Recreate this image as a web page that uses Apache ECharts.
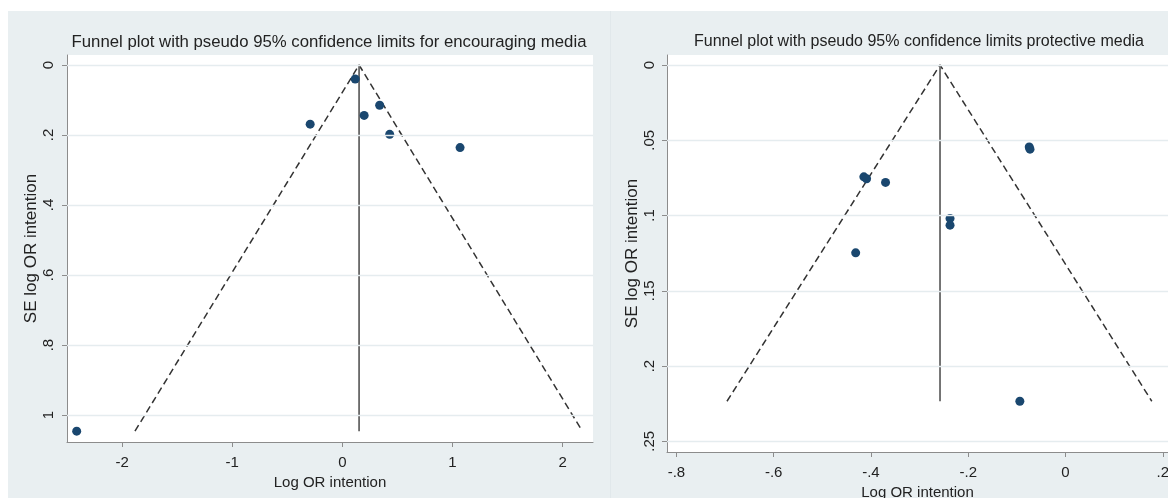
<!DOCTYPE html>
<html>
<head>
<meta charset="utf-8">
<script src="https://cdn.jsdelivr.net/npm/echarts@6/dist/echarts.min.js"></script>
<style>
  html, body { margin: 0; padding: 0; background: #ffffff; }
  #chart { width: 1168px; height: 498px; }
</style>
</head>
<body>
<div id="chart"></div>
<script>
// ---- Encouraging media: study estimates (log OR, SE) ----
const encLogOR = [0.117, 0.339, 0.198, -0.292, 0.430, 1.069, -2.412];
const encSE    = [0.040, 0.115, 0.144, 0.169, 0.198, 0.236, 1.046];
// pooled estimate and pseudo 95% limits at the largest SE
const encCenter = 0.152;
const encSEmax = 1.046;
const encLowerEnd = -1.883;
const encUpperEnd = 2.179;
const encXTicks = [-2, -1, 0, 1, 2];
const encYTicks = [0, 0.2, 0.4, 0.6, 0.8, 1];

// ---- Protective media: study estimates (log OR, SE) ----
const proLogOR = [-0.0746, -0.073, -0.4146, -0.409, -0.370, -0.2374, -0.2374, -0.4314, -0.0939];
const proSE    = [0.0545, 0.0559, 0.0743, 0.0756, 0.0780, 0.1019, 0.1064, 0.1248, 0.2234];
const proCenter = -0.258;
const proSEmax = 0.2234;
const proLowerEnd = -0.696;
const proUpperEnd = 0.1774;
const proXTicks = [-0.8, -0.6, -0.4, -0.2, 0, 0.2];
const proYTicks = [0, 0.05, 0.1, 0.15, 0.2, 0.25];

const titles = [
  'Funnel plot with pseudo 95% confidence limits for encouraging media',
  'Funnel plot with pseudo 95% confidence limits protective media'
];
const xName = 'Log OR intention';
const yName = 'SE log OR intention';

const FONT = '"Liberation Sans", Arial, Helvetica, sans-serif';
const AXIS_GRAY = '#8c8c8c';
const GRID_COLOR = '#e5ecef';
const PANEL_BG = '#e9eff1';
const NAVY = '#1a476f';
const TEXT = '#222222';

// Stata-style labels: drop the leading zero
function stataFmt(v) {
  const s = String(Math.round(v * 1000) / 1000);
  return s.replace(/^(-?)0\./, '$1.');
}

function pairs(xs, ys) { return xs.map((x, i) => [x, ys[i]]); }

function xAxisCfg(gridIndex, min, max, ticks, margin, nameGap) {
  return {
    type: 'value', gridIndex, min, max, position: 'bottom',
    name: xName, nameLocation: 'middle', nameGap,
    nameTextStyle: { fontFamily: FONT, fontSize: 15, color: TEXT },
    axisLine: { show: true, onZero: false, lineStyle: { color: AXIS_GRAY, width: 1 } },
    axisTick: { show: true, length: 5, customValues: ticks, lineStyle: { color: AXIS_GRAY } },
    axisLabel: { customValues: ticks, formatter: stataFmt, margin,
      fontFamily: FONT, fontSize: 15, color: TEXT },
    splitLine: { show: false }
  };
}

function yAxisCfg(gridIndex, min, max, ticks, margin, nameGap, nameSize) {
  return {
    type: 'value', gridIndex, min, max, inverse: true, position: 'left',
    name: yName, nameLocation: 'middle', nameGap, nameRotate: 90,
    nameTextStyle: { fontFamily: FONT, fontSize: nameSize, color: TEXT },
    axisLine: { show: true, onZero: false, lineStyle: { color: AXIS_GRAY, width: 1 } },
    axisTick: { show: true, length: 5, customValues: ticks, lineStyle: { color: AXIS_GRAY } },
    axisLabel: { customValues: ticks, formatter: stataFmt, rotate: 90, margin,
      fontFamily: FONT, fontSize: 15, color: TEXT },
    splitLine: { show: false }
  };
}

function gridLines(idx, ticks) {
  return {
    type: 'line', xAxisIndex: idx, yAxisIndex: idx, data: [], z: 1, silent: true,
    markLine: {
      silent: true, symbol: 'none', animation: false,
      label: { show: false },
      lineStyle: { color: GRID_COLOR, type: 'solid', width: 1.3 },
      data: ticks.map(v => ({ yAxis: v }))
    }
  };
}

function funnel(idx, center, seMax, lo, hi) {
  return [
    { // pseudo 95% confidence limits
      type: 'line', xAxisIndex: idx, yAxisIndex: idx, z: 2, silent: true,
      symbol: 'none', animation: false,
      lineStyle: { color: '#333333', width: 1.5, type: [7, 4] },
      data: [[lo, seMax], [center, 0], [hi, seMax]]
    },
    { // pooled estimate
      type: 'line', xAxisIndex: idx, yAxisIndex: idx, z: 2, silent: true,
      symbol: 'none', animation: false,
      lineStyle: { color: '#5e5e5e', width: 1.7 },
      data: [[center, 0], [center, seMax]]
    }
  ];
}

function points(idx, xs, ys) {
  return {
    type: 'scatter', xAxisIndex: idx, yAxisIndex: idx, z: 3, animation: false,
    symbol: 'circle', symbolSize: 9,
    itemStyle: { color: NAVY, opacity: 1 },
    data: pairs(xs, ys)
  };
}

const chart = echarts.init(document.getElementById('chart'), null, { renderer: 'canvas' });

chart.setOption({
  backgroundColor: '#ffffff',
  animation: false,
  graphic: [
    { type: 'rect', z: -10, silent: true,
      shape: { x: 8, y: 11, width: 1160, height: 487 },
      style: { fill: PANEL_BG } },
    { type: 'line', z: -9, silent: true,
      shape: { x1: 610.5, y1: 11, x2: 610.5, y2: 498 },
      style: { stroke: '#e1e8eb', lineWidth: 1 } },
    { type: 'text', x: 329, y: 42, silent: true,
      style: { text: titles[0], fill: TEXT, font: '16.75px ' + FONT,
        textAlign: 'center', textVerticalAlign: 'middle' } },
    { type: 'text', x: 919, y: 42, silent: true,
      style: { text: titles[1], fill: TEXT, font: '16px ' + FONT,
        textAlign: 'center', textVerticalAlign: 'middle' } }
  ],
  grid: [
    { left: 67, top: 55, width: 526, height: 387, show: true,
      backgroundColor: '#ffffff', borderWidth: 0, outerBoundsMode: 'none', containLabel: false },
    { left: 667, top: 55, width: 501, height: 397, show: true,
      backgroundColor: '#ffffff', borderWidth: 0, outerBoundsMode: 'none', containLabel: false }
  ],
  xAxis: [
    xAxisCfg(0, -2.5, 2.276, encXTicks, 13, 31),
    xAxisCfg(1, -0.8193, 0.2107, proXTicks, 13, 29)
  ],
  yAxis: [
    yAxisCfg(0, -0.0286, 1.077, encYTicks, 11, 24, 17),
    yAxisCfg(1, -0.00665, 0.2571, proYTicks, 10, 24, 17)
  ],
  series: [
    gridLines(0, encYTicks),
    gridLines(1, proYTicks),
    ...funnel(0, encCenter, encSEmax, encLowerEnd, encUpperEnd),
    ...funnel(1, proCenter, proSEmax, proLowerEnd, proUpperEnd),
    points(0, encLogOR, encSE),
    points(1, proLogOR, proSE)
  ]
});
</script>
</body>
</html>
